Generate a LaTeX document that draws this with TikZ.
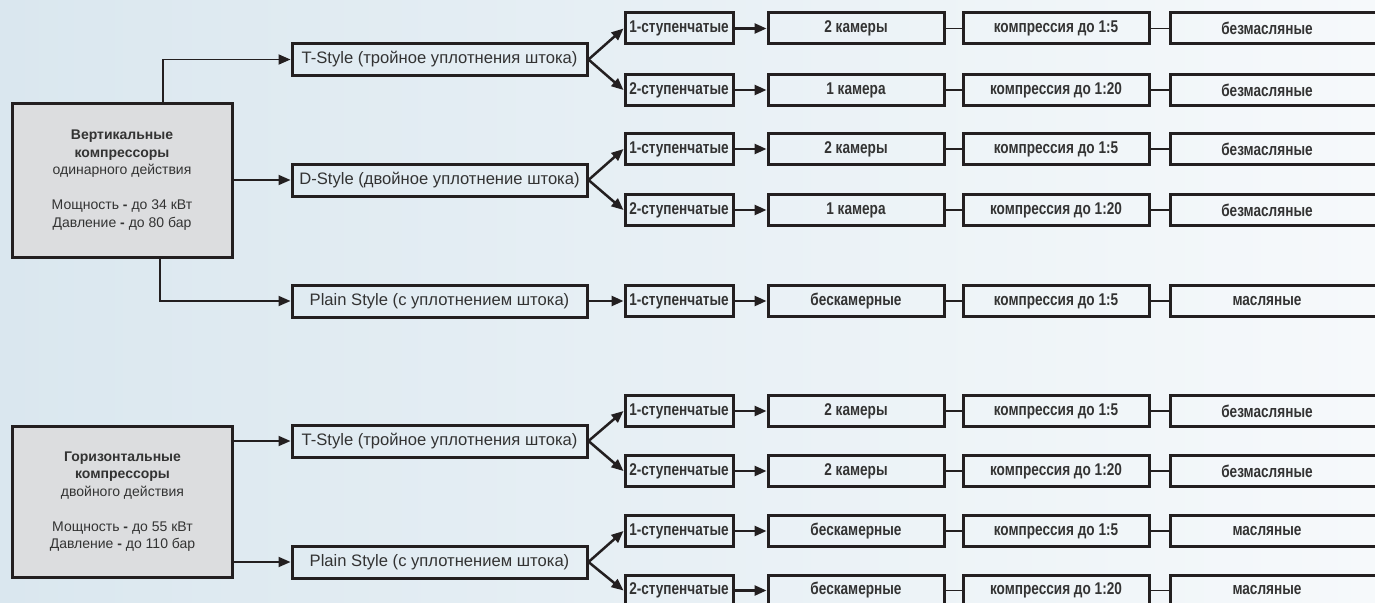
\documentclass[tikz,border=0pt]{standalone}
\usepackage{fontspec}
\setmainfont{Liberation Sans}
\newfontfamily\narrowf[FakeStretch=0.8]{Liberation Sans}
\usetikzlibrary{arrows.meta}
\definecolor{txt}{HTML}{333333}
\definecolor{edge}{HTML}{231F20}
\definecolor{bgl}{HTML}{DAE7EF}
\definecolor{bgr}{HTML}{F6F9FB}
\definecolor{mainfill}{HTML}{DCDDDF}
\newcommand\drawrow[6]{%
  \node[cellbox, minimum width=108pt] (#1a) at (679,#2) {#3};
  \node[cellbox, minimum width=176pt] (#1b) at (856,#2) {#4};
  \node[cellbox, minimum width=186pt] (#1c) at (1056,#2) {#5};
  \node[cellbox, minimum width=210pt] (#1d) at (1275,#2) {\kern-16pt #6};
  \draw[arr] (#1a) -- (#1b);
  \draw[thinline] (#1b) -- (#1c);
  \draw[thinline] (#1c) -- (#1d);
}
\begin{document}
\begin{tikzpicture}[x=1pt,y=-1pt,
  mainbox/.style={draw=edge, line width=3pt, fill=mainfill, minimum width=220pt, minimum height=154pt, text=txt, align=center, font=\fontsize{14}{17.5}\selectfont, inner sep=0pt},
  stylebox/.style={draw=edge, line width=3pt, minimum width=295pt, minimum height=32pt, text=txt, font=\fontsize{16.6}{18}\selectfont, inner sep=0pt},
  cellbox/.style={draw=edge, line width=3pt, minimum height=31pt, text=txt, font={\narrowf\bfseries\fontsize{17}{18}\selectfont}, inner sep=0pt},
  arr/.style={draw=edge, line width=2.5pt, -{Triangle[length=12pt,width=10pt]}},
  feed/.style={draw=edge, line width=1.8pt, -{Triangle[length=12pt,width=10pt]}},
  thinline/.style={draw=edge, line width=1.5pt}
]
\fill[left color=bgl, right color=bgr] (0,0) rectangle (1375,602);
\useasboundingbox (0,0) rectangle (1375,602);
\begin{scope}
\clip (0,0) rectangle (1375,602);
% main boxes
\node[mainbox] (m1) at (122,180) {\textbf{Вертикальные}\\\textbf{компрессоры}\\одинарного действия\\[17.5pt]Мощность \textbf{-} до 34 кВт\\Давление \textbf{-} до 80 бар};
\node[mainbox, minimum height=151pt] (m2) at (122.5,501.5) {\textbf{Горизонтальные}\\\textbf{компрессоры}\\двойного действия\\[17.5pt]Мощность \textbf{-} до 55 кВт\\Давление \textbf{-} до 110 бар};
% style boxes
\node[stylebox] (t1) at (439.5,59.5) {T-Style (тройное уплотнения штока)};
\node[stylebox] (d1) at (439.5,180) {D-Style (двойное уплотнение штока)};
\node[stylebox] (p1) at (439.5,301) {Plain Style (с уплотнением штока)};
\node[stylebox] (t2) at (439.5,441) {T-Style (тройное уплотнения штока)};
\node[stylebox] (p2) at (439.5,562) {Plain Style (с уплотнением штока)};
% rows
\drawrow{r1}{28.5}{1-ступенчатые}{2 камеры}{компрессия до 1:5}{безмасляные}
\drawrow{r2}{90}{2-ступенчатые}{1 камера}{компрессия до 1:20}{безмасляные}
\drawrow{r3}{149}{1-ступенчатые}{2 камеры}{компрессия до 1:5}{безмасляные}
\drawrow{r4}{210}{2-ступенчатые}{1 камера}{компрессия до 1:20}{безмасляные}
\drawrow{r5}{301}{1-ступенчатые}{бескамерные}{компрессия до 1:5}{масляные}
\drawrow{r6}{411}{1-ступенчатые}{2 камеры}{компрессия до 1:5}{безмасляные}
\drawrow{r7}{471}{2-ступенчатые}{2 камеры}{компрессия до 1:20}{безмасляные}
\drawrow{r8}{531}{1-ступенчатые}{бескамерные}{компрессия до 1:5}{масляные}
\drawrow{r9}{590.5}{2-ступенчатые}{бескамерные}{компрессия до 1:20}{масляные}
% main connectors
\draw[feed] ([xshift=41pt]m1.north) |- (t1.west);
\draw[feed] (m1) -- (d1);
\draw[feed] ([xshift=38pt]m1.south) |- (p1.west);
\draw[feed] (m2.east |- t2.west) -- (t2.west);
\draw[feed] (m2.east |- p2.west) -- (p2.west);
% fan-outs
\draw[arr] (t1.east) -- (r1a.west);
\draw[arr] (t1.east) -- (r2a.west);
\draw[arr] (d1.east) -- (r3a.west);
\draw[arr] (d1.east) -- (r4a.west);
\draw[arr] (p1) -- (r5a);
\draw[arr] (t2.east) -- (r6a.west);
\draw[arr] (t2.east) -- (r7a.west);
\draw[arr] (p2.east) -- (r8a.west);
\draw[arr] (p2.east) -- (r9a.west);
\end{scope}
\end{tikzpicture}
\end{document}
